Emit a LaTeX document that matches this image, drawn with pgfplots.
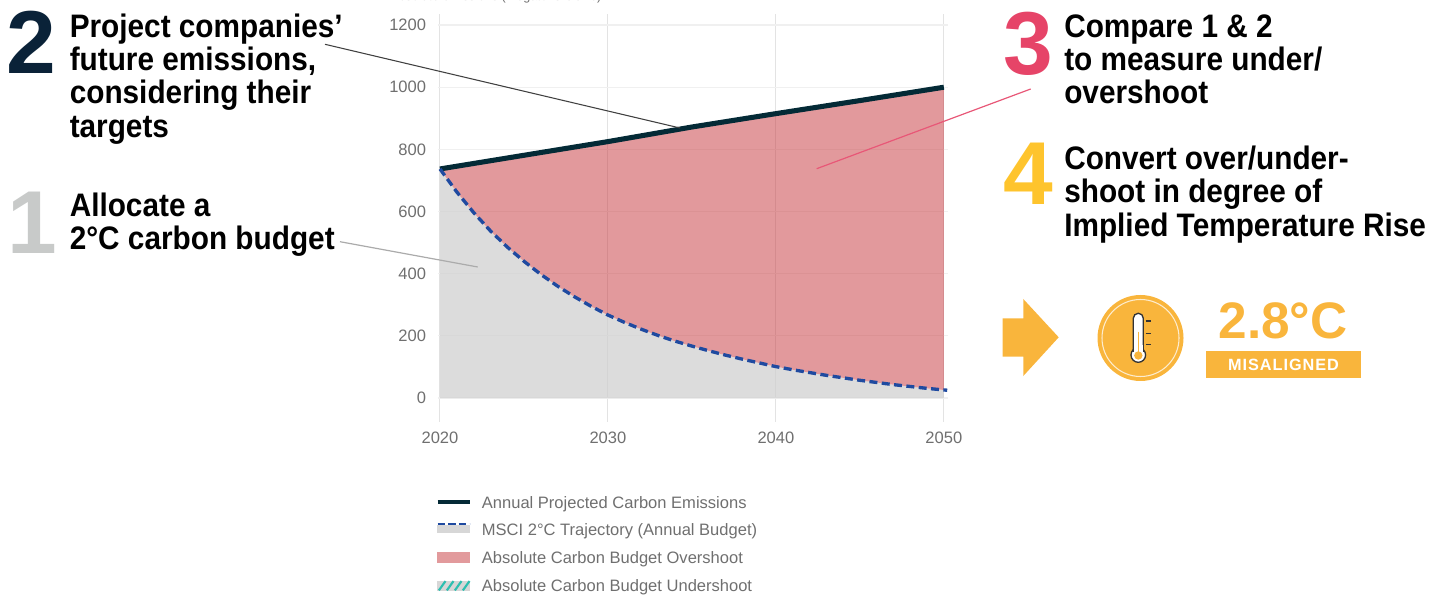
\documentclass[border=0pt]{standalone}
\usepackage{fontspec}
\setmainfont{Liberation Sans}
\newfontfamily\headf[FakeStretch=0.915]{Liberation Sans}
\usepackage{pgfplots}
\pgfplotsset{compat=1.18}
\usepgfplotslibrary{fillbetween}
\definecolor{navy}{HTML}{042A36}
\definecolor{bluedash}{HTML}{1F4AA0}
\definecolor{over}{HTML}{C83C41}
\definecolor{budget}{HTML}{D0D0D0}
\definecolor{teal}{HTML}{2DBFB0}
\definecolor{ticktext}{HTML}{6F6F6F}
\definecolor{orangeM}{HTML}{F9B53C}
\definecolor{num2}{HTML}{0A2238}
\definecolor{num1}{HTML}{C8CAC9}
\definecolor{num3}{HTML}{E64468}
\definecolor{num4}{HTML}{FEC42D}
\newcommand{\hd}[3]{\node[overlay,anchor=base west,inner sep=0pt,text=black,font=\headf\fontsize{24.4}{29}\selectfont\bfseries] at (#1,#2) {#3};}
\newcommand{\bignum}[4]{\node[anchor=base west,inner sep=0pt,text=#4,font=\fontsize{67}{78}\selectfont\bfseries] at (#1,#2) {#3};}
\pgfplotstableread{
year value
2020 737
2025 781
2030 825
2035 872
2040 915
2045 957
2050 1000
}\emissions
\pgfplotstableread{
year value
2020 737
2021 663
2022 597
2023 538
2024 486
2025 440
2026 398
2027 360
2028 326
2029 295
2030 267
2031 243
2032 221
2033 201
2034 183
2035 167
2036 152
2037 138
2038 125
2039 113
2040 101
2041 91
2042 82
2043 73
2044 65
2045 57
2046 50
2047 43
2048 37
2049 31
2050 26
}\trajectory
\begin{document}
\begin{tikzpicture}
\path (0pt,0pt) rectangle (1084.5pt,-446.25pt);
\begin{axis}[
  at={(328.725pt,-316.125pt)},anchor=south west,
  scale only axis,width=382.3pt,height=305.6pt,
  xmin=2019.9,xmax=2050.25,ymin=-75.6,ymax=1235.5,
  xtick={2020,2030,2040,2050},ytick={0,200,400,600,800,1000,1200},
  /pgf/number format/1000 sep={},
  /pgf/number format/assume math mode=true,
  grid=major,
  x grid style={draw=black!11,line width=0.75pt},
  y grid style={draw=black!6,line width=0.9pt},
  axis line style={draw=none},
  major tick length=0pt,
  tick label style={font=\fontsize{12.4}{14}\selectfont,text=ticktext,inner sep=0pt},
  yticklabel style={anchor=east,xshift=-9pt},
  xticklabel style={anchor=north,yshift=-7.5pt},
  legend cell align=left,
  legend style={at={(-0.006,-0.1693)},anchor=north west,draw=none,fill=none,inner sep=0pt,
    font=\fontsize{12.4}{14}\selectfont,text=ticktext,
    nodes={inner sep=0pt,text height=13pt,text depth=1pt},
    column sep=0pt,row sep=6.75pt},
]
\addplot[name path=baseL,draw=none,forget plot] coordinates {(2020,0) (2050,0)};
\addplot[name path=trajF,draw=none,forget plot] table[x=year,y=value] {\trajectory};
\addplot[name path=emisF,draw=none,forget plot] table[x=year,y=value] {\emissions};
\addplot[budget,opacity=0.75,draw=none,forget plot] fill between[of=trajF and baseL];
\addplot[over,opacity=0.52,draw=none,forget plot] fill between[of=emisF and trajF];
\addplot[navy,line width=3.8pt,forget plot] table[x=year,y=value] {\emissions};
\addplot[bluedash,line width=2.5pt,dash pattern=on 6pt off 3.3pt,forget plot] table[x=year,y=value] {\trajectory} ;
\addplot[bluedash,line width=2.5pt,forget plot] coordinates {(2050,26) (2050.2,25)};
\addlegendimage{legend image code/.code={\draw[navy,line width=3pt] (0pt,-1.8pt) -- (24pt,-1.8pt);}}
\addlegendentry{\hspace{7.8pt}Annual Projected Carbon Emissions}
\addlegendimage{legend image code/.code={\fill[budget!85!white] (0pt,-3.75pt) rectangle (24pt,2pt);\draw[bluedash,line width=2pt,dash pattern=on 5.5pt off 2.5pt] (0pt,2.7pt) -- (24pt,2.7pt);}}
\addlegendentry{\hspace{7.8pt}MSCI 2°C Trajectory (Annual Budget)}
\addlegendimage{legend image code/.code={\fill[over!52!white] (0pt,-5pt) rectangle (24pt,2.5pt);}}
\addlegendentry{\hspace{7.8pt}Absolute Carbon Budget Overshoot}
\addlegendimage{legend image code/.code={\fill[budget!85!white] (0pt,-5.5pt) rectangle (24pt,1.5pt);
  \foreach \s in {1,7,13,19}{\draw[teal,line width=1.6pt] (\s pt,-5.5pt) -- (\s pt+5pt,1.5pt);}}}
\addlegendentry{\hspace{7.8pt}Absolute Carbon Budget Undershoot}
\end{axis}
\begin{scope}[x=0.75pt,y=-0.75pt]
% leader lines
\draw[draw=black!75,line width=0.8pt] (325,44.3) -- (680,128);
\draw[draw=black!33,line width=0.9pt] (340,241.7) -- (477.7,267);
\draw[draw=num3!90!white,line width=0.9pt] (1030.7,89) -- (816.7,168.7);
% axis title, cut by the top edge as in the reference
\node[overlay,anchor=base west,inner sep=0pt,text=ticktext,font=\fontsize{9.4}{11}\selectfont] at (390,0.5) {Absolute emissions (Megatons CO2e)};
% numbers
\bignum{6}{74}{2}{num2}
\bignum{7}{254}{1}{num1}
\bignum{1003}{74.5}{3}{num3}
\bignum{1003}{205}{4}{num4}
% headings
\hd{69.5}{38}{Project companies’}
\hd{69.5}{70.7}{future emissions,}
\hd{69.5}{104}{considering their}
\hd{69.5}{137.5}{targets}
\hd{69.5}{217}{Allocate a}
\hd{69.5}{249.8}{2°C carbon budget}
\hd{1064}{38}{Compare 1 \& 2}
\hd{1064}{70.7}{to measure under/}
\hd{1064}{103.7}{overshoot}
\hd{1064}{169.2}{Convert over/under-}
\hd{1064}{202.5}{shoot in degree of}
\hd{1064}{237}{Implied Temperature Rise}
% arrow
\fill[orangeM] (1002.7,318.3) -- (1023.3,318.3) -- (1023.3,299) -- (1058.7,337.3) -- (1023.3,376) -- (1023.3,356.7) -- (1002.7,356.7) -- cycle;
% thermometer badge
\fill[orangeM] (1140.5,338) circle[radius=43];
\draw[white!75!orangeM,line width=0.8pt] (1140.5,338) circle[radius=38.5];
\draw[black!80,line width=1pt,fill=white] (1138.3,355) circle[radius=7.3];
\draw[black!80,line width=1pt,fill=white,rounded corners=3.7pt] (1133.3,352) -- (1133.3,313.3) -- (1143.3,313.3) -- (1143.3,352);
\fill[white] (1134,345) rectangle (1142.6,355);
\fill[orangeM] (1138.3,355.5) circle[radius=4.2];
\draw[orangeM,line width=1pt] (1138.3,331.7) -- (1138.3,354);
\foreach \yy in {321,333.3,344.3}{\draw[black!80,line width=0.9pt] (1145.7,\yy) -- (1151,\yy);}
% result
\node[anchor=base,inner sep=0pt,text=orangeM,font=\fontsize{38.5}{42}\selectfont\bfseries] at (1283,338.5) {2.8°C};
\fill[orangeM] (1206,350.7) rectangle (1361,378);
\node[anchor=base,inner sep=0pt,text=white,font=\fontsize{12.2}{14}\selectfont\bfseries] at (1283.5,370.5) {\addfontfeatures{LetterSpace=6}MISALIGNED};
\end{scope}
\end{tikzpicture}
\end{document}
